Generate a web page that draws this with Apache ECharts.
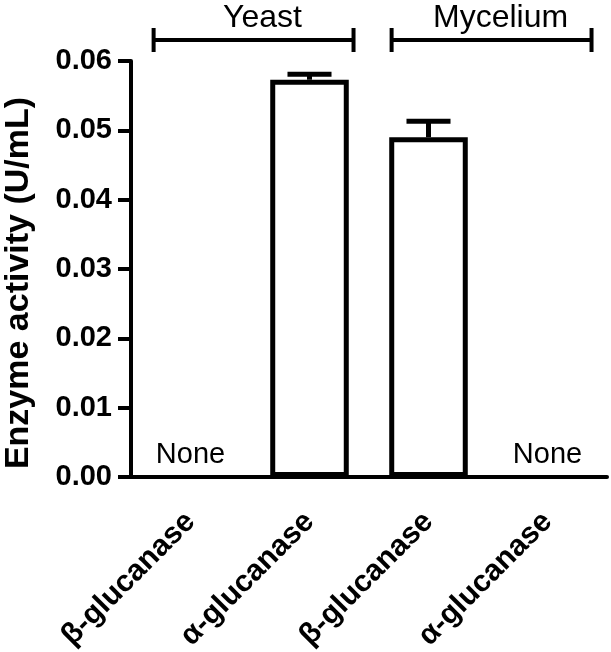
<!DOCTYPE html>
<html>
<head>
<meta charset="utf-8">
<script src="https://cdn.jsdelivr.net/npm/echarts@6/dist/echarts.min.js"></script>
<style>
  html, body { margin: 0; padding: 0; background: #fff; }
  #chart { width: 611px; height: 652px; }
</style>
</head>
<body>
<div id="chart"></div>
<script>
// data
const categories = ['β-glucanase', 'α-glucanase', 'β-glucanase', 'α-glucanase']
const activity = [null, 0.0573, 0.049, null]
const activityErr = [null, 0.0008, 0.0023, null]
const noneIdx = [0, 3]
const groupNames = ['Yeast', 'Mycelium']
const groupSpan = [[0, 1], [2, 3]]
const yTicks = { min: 0, max: 0.06, step: 0.01 }

const FONT = '"Liberation Sans", Arial, sans-serif'
const chart = echarts.init(document.getElementById('chart'))

const errData = activity
  .map((v, i) => (v == null ? null : [i, v, activityErr[i]]))
  .filter(d => d)

const option = {
  animation: false,
  grid: { left: 131, right: 4, top: 61, bottom: 175, outerBoundsMode: 'none', containLabel: false },
  xAxis: {
    type: 'category',
    data: categories,
    axisLine: { lineStyle: { color: '#000', width: 4 } },
    axisTick: { alignWithLabel: true, length: 17, lineStyle: { color: '#000', width: 4 } },
    axisLabel: {
      rotate: 45,
      margin: 40,
      color: '#000',
      fontFamily: FONT,
      fontWeight: 'bold',
      fontSize: 30
    }
  },
  yAxis: {
    type: 'value',
    min: yTicks.min,
    max: yTicks.max,
    interval: yTicks.step,
    name: 'Enzyme activity (U/mL)',
    nameLocation: 'middle',
    nameGap: 95,
    nameTextStyle: {
      color: '#000',
      fontFamily: FONT,
      fontWeight: 'bold',
      fontSize: 34,
      padding: [0, 28, 0, 0]
    },
    splitLine: { show: false },
    axisLine: { show: true, lineStyle: { color: '#000', width: 4 } },
    axisTick: { show: true, length: 13, lineStyle: { color: '#000', width: 4 } },
    axisLabel: {
      margin: 19,
      color: '#000',
      fontFamily: FONT,
      fontWeight: 'bold',
      fontSize: 29,
      formatter: v => v.toFixed(2)
    }
  },
  series: [
    {
      type: 'bar',
      data: activity,
      barWidth: '66%',
      itemStyle: { color: '#fff', borderColor: '#000', borderWidth: 5 }
    },
    {
      // error bars (upper only)
      type: 'custom',
      data: errData,
      z: 5,
      renderItem (params, api) {
        const i = api.value(0)
        const top = api.coord([i, api.value(1)])
        const hi = api.coord([i, api.value(1) + api.value(2)])
        const half = api.size([1, 0])[0] * 0.185
        const st = { stroke: '#000', lineWidth: 5 }
        return {
          type: 'group',
          children: [
            { type: 'line', shape: { x1: top[0], y1: top[1], x2: hi[0], y2: hi[1] }, style: st },
            { type: 'line', shape: { x1: hi[0] - half, y1: hi[1], x2: hi[0] + half, y2: hi[1] }, style: st }
          ]
        }
      }
    },
    {
      // "None" notes
      type: 'custom',
      data: noneIdx.map(i => [i, 0]),
      renderItem (params, api) {
        const p = api.coord([api.value(0), 0])
        return {
          type: 'text',
          x: p[0],
          y: p[1] - 22,
          style: {
            text: 'None',
            fill: '#000',
            font: '29px ' + FONT,
            align: 'center',
            verticalAlign: 'middle'
          }
        }
      }
    },
    {
      // group brackets above the plot
      type: 'custom',
      clip: false,
      data: groupSpan.map((s, k) => [s[0], s[1], k]),
      encode: { x: [0, 1] },
      renderItem (params, api) {
        const band = api.size([1, 0])[0]
        const a = api.coord([api.value(0), yTicks.max])
        const b = api.coord([api.value(1), yTicks.max])
        const x1 = a[0] - band * 0.31
        const x2 = b[0] + band * 0.37
        const y = a[1] - 21
        const st = { stroke: '#000', lineWidth: 4 }
        return {
          type: 'group',
          children: [
            { type: 'line', shape: { x1: x1, y1: y, x2: x2, y2: y }, style: st },
            { type: 'line', shape: { x1: x1, y1: y - 12, x2: x1, y2: y + 12 }, style: st },
            { type: 'line', shape: { x1: x2, y1: y - 12, x2: x2, y2: y + 12 }, style: st },
            {
              type: 'text',
              x: (x1 + x2) / 2 + 9,
              y: y - 6,
              style: {
                text: groupNames[api.value(2)],
                fill: '#000',
                font: '32px ' + FONT,
                align: 'center',
                verticalAlign: 'bottom'
              }
            }
          ]
        }
      }
    }
  ]
}

chart.setOption(option)
</script>
</body>
</html>
